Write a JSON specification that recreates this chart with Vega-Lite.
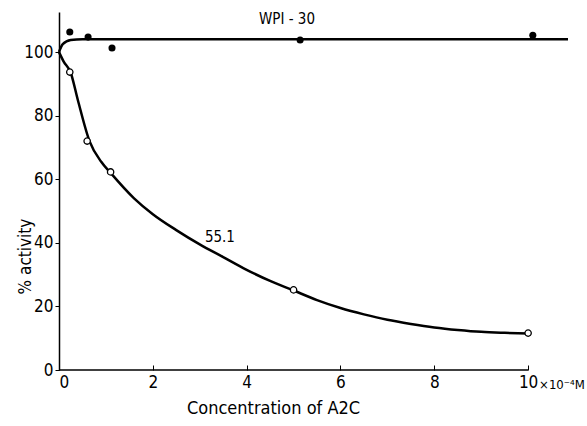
{
  "$schema": "https://vega.github.io/schema/vega-lite/v6.json",
  "autosize": {"type": "none"},
  "width": 509,
  "height": 358,
  "padding": {"left": 59, "top": 12, "right": 19, "bottom": 56},
  "background": "white",
  "config": {
    "view": {"stroke": null},
    "font": "DejaVu Sans Condensed, DejaVu Sans, sans-serif",
    "axis": {"grid": false, "labelFont": "DejaVu Sans Condensed, DejaVu Sans, sans-serif", "titleFont": "DejaVu Sans Condensed, DejaVu Sans, sans-serif", "labelColor": "black", "titleColor": "black", "domainColor": "black", "tickColor": "black", "titleFontWeight": "normal"}
  },
  "datasets": {
    "curves": [
      {"series": "55.1", "conc": 0, "activity": 100},
      {"series": "55.1", "conc": 0.1, "activity": 97},
      {"series": "55.1", "conc": 0.25, "activity": 93.5},
      {"series": "55.1", "conc": 0.4, "activity": 85},
      {"series": "55.1", "conc": 0.65, "activity": 72},
      {"series": "55.1", "conc": 0.9, "activity": 65.5},
      {"series": "55.1", "conc": 1.1, "activity": 62},
      {"series": "55.1", "conc": 1.6, "activity": 54},
      {"series": "55.1", "conc": 2, "activity": 49},
      {"series": "55.1", "conc": 2.5, "activity": 44},
      {"series": "55.1", "conc": 3, "activity": 39.5},
      {"series": "55.1", "conc": 3.5, "activity": 35.5},
      {"series": "55.1", "conc": 4, "activity": 31.5},
      {"series": "55.1", "conc": 4.5, "activity": 28},
      {"series": "55.1", "conc": 5, "activity": 25},
      {"series": "55.1", "conc": 5.5, "activity": 22},
      {"series": "55.1", "conc": 6, "activity": 19.5},
      {"series": "55.1", "conc": 6.5, "activity": 17.5},
      {"series": "55.1", "conc": 7, "activity": 15.8},
      {"series": "55.1", "conc": 7.5, "activity": 14.5},
      {"series": "55.1", "conc": 8, "activity": 13.4},
      {"series": "55.1", "conc": 8.5, "activity": 12.6},
      {"series": "55.1", "conc": 9, "activity": 12},
      {"series": "55.1", "conc": 9.5, "activity": 11.7},
      {"series": "55.1", "conc": 10, "activity": 11.5},
      {"series": "WPI-30", "conc": 0, "activity": 100},
      {"series": "WPI-30", "conc": 0.08, "activity": 102.5},
      {"series": "WPI-30", "conc": 0.25, "activity": 103.8},
      {"series": "WPI-30", "conc": 0.5, "activity": 104},
      {"series": "WPI-30", "conc": 5, "activity": 104},
      {"series": "WPI-30", "conc": 10.85, "activity": 104}
    ],
    "points": [
      {"series": "WPI-30", "conc": 0.23, "activity": 106.3},
      {"series": "WPI-30", "conc": 0.62, "activity": 104.7},
      {"series": "WPI-30", "conc": 1.13, "activity": 101.3},
      {"series": "WPI-30", "conc": 5.14, "activity": 103.8},
      {"series": "WPI-30", "conc": 10.1, "activity": 105.3},
      {"series": "55.1", "conc": 0.23, "activity": 93.7},
      {"series": "55.1", "conc": 0.6, "activity": 72},
      {"series": "55.1", "conc": 1.1, "activity": 62.3},
      {"series": "55.1", "conc": 5.0, "activity": 25.2},
      {"series": "55.1", "conc": 10.0, "activity": 11.6}
    ],
    "labels": [
      {"text": "WPI - 30", "conc": 4.86, "activity": 110.5},
      {"text": "55.1", "conc": 3.43, "activity": 41.8}
    ]
  },
  "layer": [
    {
      "data": {"values": [{"a": 0, "b": 10, "y": 0}]},
      "mark": {"type": "rule", "color": "black", "strokeWidth": 1.5},
      "encoding": {
        "x": {"field": "a", "type": "quantitative", "scale": {"domain": [0, 10.85], "nice": false, "zero": false},
          "axis": {"values": [0, 2, 4, 6, 8, 10], "domain": false, "tickSize": -5, "labelPadding": 9, "labelFontSize": 17, "title": "Concentration of A2C", "titleFontSize": 18, "titleX": 214, "titleY": 38, "titleBaseline": "middle"}},
        "x2": {"field": "b"},
        "y": {"field": "y", "type": "quantitative", "scale": {"domain": [0, 112.6], "nice": false},
          "axis": {"values": [0, 20, 40, 60, 80, 100], "domainWidth": 1.5, "tickSize": 4, "labelPadding": 2, "labelFontSize": 17, "title": "% activity", "titleFontSize": 17, "titleX": -34, "titleY": 244, "titleAngle": -90, "titleBaseline": "middle", "titleAlign": "center"}}
      }
    },
    {
      "data": {"name": "curves"},
      "mark": {"type": "line", "color": "black", "strokeWidth": 2.5, "interpolate": "monotone"},
      "encoding": {
        "x": {"field": "conc", "type": "quantitative"},
        "y": {"field": "activity", "type": "quantitative"},
        "detail": {"field": "series", "type": "nominal"}
      }
    },
    {
      "data": {"name": "points"},
      "transform": [{"filter": "datum.series === 'WPI-30'"}],
      "mark": {"type": "circle", "color": "black", "size": 50, "opacity": 1},
      "encoding": {
        "x": {"field": "conc", "type": "quantitative"},
        "y": {"field": "activity", "type": "quantitative"}
      }
    },
    {
      "data": {"name": "points"},
      "transform": [{"filter": "datum.series === '55.1'"}],
      "mark": {"type": "point", "shape": "circle", "stroke": "black", "fill": "white", "filled": true, "strokeWidth": 1.3, "size": 40, "opacity": 1},
      "encoding": {
        "x": {"field": "conc", "type": "quantitative"},
        "y": {"field": "activity", "type": "quantitative"}
      }
    },
    {
      "data": {"name": "labels"},
      "mark": {"type": "text", "fontSize": 15, "align": "center", "baseline": "middle", "color": "black"},
      "encoding": {
        "x": {"field": "conc", "type": "quantitative"},
        "y": {"field": "activity", "type": "quantitative"},
        "text": {"field": "text"}
      }
    },
    {
      "data": {"values": [{"conc": 10, "activity": 0, "text": "×10⁻⁴M"}]},
      "mark": {"type": "text", "fontSize": 13, "align": "left", "baseline": "middle", "dx": 11, "dy": 15, "color": "black"},
      "encoding": {
        "x": {"field": "conc", "type": "quantitative"},
        "y": {"field": "activity", "type": "quantitative"},
        "text": {"field": "text"}
      }
    }
  ]
}
